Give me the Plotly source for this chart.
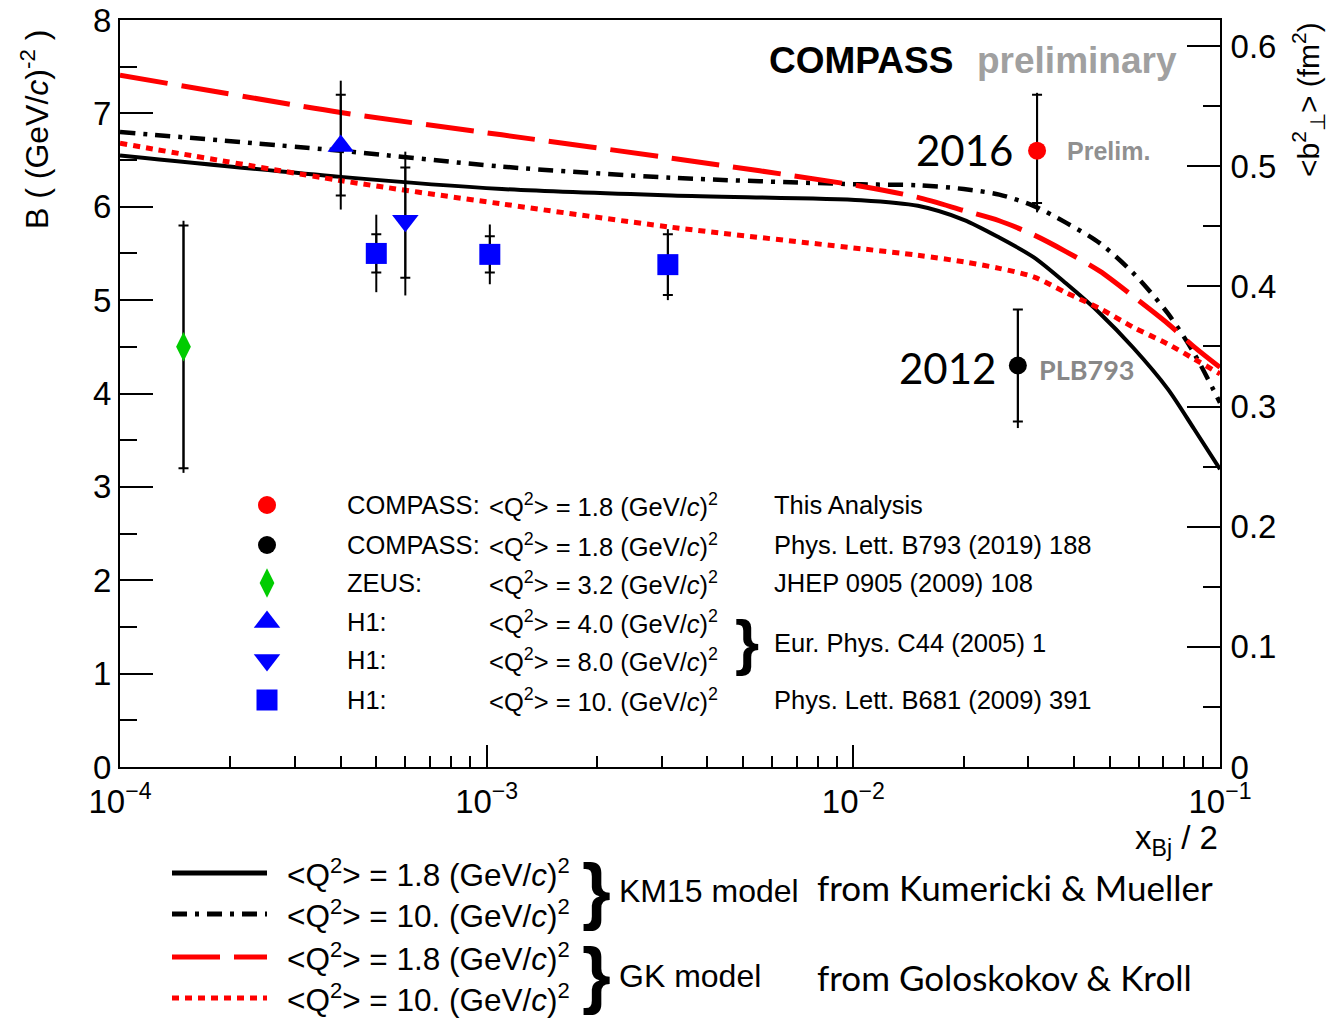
import plotly.graph_objects as go

# ---------------- model curves: B vs x_Bj/2 ----------------
x_model = [1e-4, 4e-4, 1.1e-3, 3.2e-3, 1.05e-2, 1.5e-2, 2.0e-2, 2.5e-2,
           3.1e-2, 3.8e-2, 4.7e-2, 5.8e-2, 7.2e-2, 8.5e-2, 0.1]
km15_q2_1p8 = [6.55, 6.32, 6.19, 6.12, 6.07, 6.01, 5.86, 5.67,
               5.46, 5.18, 4.86, 4.49, 4.05, 3.62, 3.19]
km15_q2_10 = [6.80, 6.60, 6.43, 6.31, 6.24, 6.23, 6.19, 6.13,
              6.01, 5.83, 5.61, 5.29, 4.86, 4.43, 3.90]
gk_q2_1p8 = [7.41, 7.01, 6.77, 6.52, 6.22, 6.10, 5.96, 5.85,
             5.70, 5.52, 5.31, 5.04, 4.75, 4.50, 4.28]
gk_q2_10 = [6.68, 6.28, 6.03, 5.78, 5.55, 5.48, 5.41, 5.34,
            5.25, 5.08, 4.91, 4.71, 4.53, 4.37, 4.21]

# ---------------- measurements ----------------
compass16_x = [0.0317]
compass16_b = [6.60]
compass16_stat_up, compass16_stat_dn = [0.60], [0.56]
compass16_tot_up, compass16_tot_dn = [0.62], [0.66]

compass12_x = [0.0281]
compass12_b = [4.30]
compass12_stat_up, compass12_stat_dn = [0.60], [0.60]
compass12_tot_up, compass12_tot_dn = [0.60], [0.67]

zeus_x = [1.49e-4]
zeus_b = [4.50]
zeus_stat = [1.30]
zeus_tot = [1.35]

h1_q4_x = [4.0e-4]
h1_q4_b = [6.65]
h1_q4_stat_up, h1_q4_stat_dn = [0.55], [0.53]
h1_q4_tot_up, h1_q4_tot_dn = [0.70], [0.68]

h1_q8_x = [6.0e-4]
h1_q8_b = [5.85]
h1_q8_stat_up, h1_q8_stat_dn = [0.57], [0.61]
h1_q8_tot_up, h1_q8_tot_dn = [0.74], [0.80]

h1_q10_x = [5.0e-4, 1.02e-3, 3.12e-3]
h1_q10_b = [5.50, 5.49, 5.38]
h1_q10_stat = [0.205, 0.195, 0.325]
h1_q10_tot = [0.415, 0.32, 0.38]

# axis ticks
x_major = [1e-4, 1e-3, 1e-2, 1e-1]
x_major_text = ["10<sup>\u22124</sup>", "10<sup>\u22123</sup>",
                "10<sup>\u22122</sup>", "10<sup>\u22121</sup>"]
x_minor = [m * d for d in (1e-4, 1e-3, 1e-2) for m in range(2, 10)]

# conversion B -> <b_perp^2>: right axis spans the same frame height
B_MAX = 8.0
B_TO_FM2 = 0.6217 / 8.0

ARIAL = "Liberation Sans, Arial, sans-serif"
CALIBRI = "Lato, Carlito, sans-serif"

# frame in pixels
L, R, T, BOT = 120, 1220, 20, 767
W, H = 1332, 1023


def xp(p):
    return (p - L) / (R - L)


def yp(p):
    return (BOT - p) / (BOT - T)


fig = go.Figure()

# model curves
curve_specs = [
    (km15_q2_1p8, "black", 4, "solid"),
    (km15_q2_10, "black", 4.5, "15px,8px,4px,8px"),
    (gk_q2_1p8, "#ff0000", 5, "48px,14px"),
    (gk_q2_10, "#ff0000", 5, "7px,6px"),
]
for yvals, col, wid, dash in curve_specs:
    fig.add_trace(go.Scatter(
        x=x_model, y=yvals, mode="lines",
        line=dict(color=col, width=wid, dash=dash, shape="spline", smoothing=0.8),
        hoverinfo="skip", showlegend=False))


def add_points(x, y, tot_up, tot_dn, st_up, st_dn, symbol, color, size):
    # full (total) error bar
    fig.add_trace(go.Scatter(
        x=x, y=y, mode="markers",
        marker=dict(size=1, color="rgba(0,0,0,0)"),
        error_y=dict(type="data", symmetric=False, array=tot_up, arrayminus=tot_dn,
                     color="black", thickness=2, width=0),
        hoverinfo="skip", showlegend=False))
    # statistical error bar with ticks, plus the marker
    fig.add_trace(go.Scatter(
        x=x, y=y, mode="markers",
        marker=dict(size=size, color=color, symbol=symbol, opacity=1, line=dict(width=0)),
        error_y=dict(type="data", symmetric=False, array=st_up, arrayminus=st_dn,
                     color="black", thickness=2, width=5),
        hoverinfo="skip", showlegend=False))


SIZE_DIAMOND, SIZE_TRI, SIZE_SQ, SIZE_CIRC = 21, 23, 21, 18

add_points(zeus_x, zeus_b, zeus_tot, zeus_tot, zeus_stat, zeus_stat,
           "diamond-tall", "#00cc00", SIZE_DIAMOND)
add_points(h1_q4_x, h1_q4_b, h1_q4_tot_up, h1_q4_tot_dn, h1_q4_stat_up, h1_q4_stat_dn,
           "triangle-up", "#0000ff", SIZE_TRI)
add_points(h1_q8_x, h1_q8_b, h1_q8_tot_up, h1_q8_tot_dn, h1_q8_stat_up, h1_q8_stat_dn,
           "triangle-down", "#0000ff", SIZE_TRI)
add_points(h1_q10_x, h1_q10_b, h1_q10_tot, h1_q10_tot, h1_q10_stat, h1_q10_stat,
           "square", "#0000ff", SIZE_SQ)
add_points(compass12_x, compass12_b, compass12_tot_up, compass12_tot_dn,
           compass12_stat_up, compass12_stat_dn, "circle", "black", SIZE_CIRC)
add_points(compass16_x, compass16_b, compass16_tot_up, compass16_tot_dn,
           compass16_stat_up, compass16_stat_dn, "circle", "#ff0000", SIZE_CIRC)

# legend symbols (drawn on a pixel-space overlay)
leg_rows = [505, 545, 583, 622, 660, 700]
leg_symbols = ["circle", "circle", "diamond-tall", "triangle-up", "triangle-down", "square"]
leg_colors = ["#ff0000", "black", "#00cc00", "#0000ff", "#0000ff", "#0000ff"]
leg_sizes = [SIZE_CIRC, SIZE_CIRC, SIZE_DIAMOND, SIZE_TRI, SIZE_TRI, SIZE_SQ]
fig.add_trace(go.Scatter(
    x=[267] * len(leg_rows), y=leg_rows, mode="markers",
    marker=dict(symbol=leg_symbols, color=leg_colors, size=leg_sizes,
                opacity=1, line=dict(width=0)),
    xaxis="x3", yaxis="y3", hoverinfo="skip", showlegend=False))

# right axis carrier (invisible)
fig.add_trace(go.Scatter(x=[1e-3], y=[0.3], mode="markers", marker=dict(opacity=0),
                         yaxis="y2", hoverinfo="skip", showlegend=False))

ann = []


def text(x, y, s, size, font=ARIAL, color="black", xa="left", ya="middle", angle=0):
    ann.append(dict(x=xp(x), y=yp(y), xref="paper", yref="paper", text=s,
                    showarrow=False, xanchor=xa, yanchor=ya, textangle=angle,
                    font=dict(size=size, family=font, color=color)))


# headline
text(955, 60, "<b>COMPASS</b>", 37, xa="right")
text(975, 60, "<b>preliminary</b>", 37, color="#a0a0a0")

# point labels
text(1015, 150, "2016", 42, font=CALIBRI, xa="right")
text(1065, 151, "<b>Prelim.</b>", 25, color="#909090")
text(998, 368, "2012", 42, font=CALIBRI, xa="right")
text(1037, 369, "<b>PLB793</b>", 27, font=CALIBRI, color="#888888")

# in-frame legend text
q2 = "&lt;Q<sup>2</sup>&gt; = {} (GeV/<i>c</i>)<sup>2</sup>"
leg_exp = ["COMPASS:", "COMPASS:", "ZEUS:", "H1:", "H1:", "H1:"]
leg_q2 = ["1.8", "1.8", "3.2", "4.0", "8.0", "10."]
for row, e, q in zip(leg_rows, leg_exp, leg_q2):
    text(345, row, e, 25.5)
    text(487, row, q2.format(q), 25.5)
text(772, 505, "This Analysis", 25.5)
text(772, 545, "Phys. Lett. B793 (2019) 188", 25.5)
text(772, 583, "JHEP 0905 (2009) 108", 25.5)
text(772, 643, "Eur. Phys. C44 (2005) 1", 25.5)
text(772, 700, "Phys. Lett. B681 (2009) 391", 25.5)
text(747, 641, "<b>}</b>", 62, xa="center")

# axis titles
text(35, 130, "B ( (GeV/<i>c</i>)<sup>-2</sup> )", 32, xa="center", angle=-90)
text(1308, 100, "&lt;b<sup>2</sup><sub>\u22a5</sub>&gt; (fm<sup>2</sup>)", 30,
     xa="center", angle=-90)
text(1220, 840, "x<sub>Bj</sub> / 2", 33, xa="right")

# model legend below the frame
bot_rows = [873, 914, 957, 998]
bot_q2 = ["1.8", "10.", "1.8", "10."]
bot_styles = [("black", "solid"), ("black", "15px,8px,4px,8px"),
              ("#ff0000", "48px,14px"), ("#ff0000", "7px,6px")]
shapes = []
for row, q, (col, dash) in zip(bot_rows, bot_q2, bot_styles):
    shapes.append(dict(type="line", xref="paper", yref="paper",
                       x0=xp(172), x1=xp(267), y0=yp(row), y1=yp(row),
                       line=dict(color=col, width=5, dash=dash)))
    text(285, row, q2.format(q), 31.5)
text(596, 890, "<b>}</b>", 74, xa="center")
text(596, 975, "<b>}</b>", 74, xa="center")
text(617, 891, "KM15 model", 32)
text(617, 976, "GK model", 32)
text(815, 887, "from Kumericki &amp; Mueller", 35, font=CALIBRI)
text(815, 977, "from Goloskokov &amp; Kroll", 35, font=CALIBRI)

fig.update_layout(
    width=W, height=H,
    margin=dict(l=L, r=W - R, t=T, b=H - BOT, pad=0, autoexpand=False),
    paper_bgcolor="white", plot_bgcolor="white",
    showlegend=False,
    annotations=ann,
    shapes=shapes,
    xaxis=dict(
        type="log", range=[-4, -1], automargin=False,
        tickmode="array", tickvals=x_major, ticktext=x_major_text,
        ticks="inside", ticklen=22, tickwidth=2, tickcolor="black",
        minor=dict(tickmode="array", tickvals=x_minor, ticks="inside",
                   ticklen=11, tickwidth=2, tickcolor="black", showgrid=False),
        showline=True, linecolor="black", linewidth=2, mirror=True,
        showgrid=False, zeroline=False,
        tickfont=dict(size=33, family=ARIAL, color="black"),
        ticklabelstandoff=4,
    ),
    yaxis=dict(
        range=[0, B_MAX], dtick=1, automargin=False,
        ticks="inside", ticklen=33, tickwidth=2, tickcolor="black",
        minor=dict(dtick=0.5, ticks="inside", ticklen=17, tickwidth=2,
                   tickcolor="black", showgrid=False),
        showline=True, linecolor="black", linewidth=2,
        showgrid=False, zeroline=False,
        tickfont=dict(size=33, family=ARIAL, color="black"),
        ticklabelstandoff=0,
    ),
    yaxis2=dict(
        overlaying="y", side="right", anchor="x", automargin=False,
        range=[0, B_MAX * B_TO_FM2], dtick=0.1,
        ticks="inside", ticklen=33, tickwidth=2, tickcolor="black",
        minor=dict(dtick=0.05, ticks="inside", ticklen=17, tickwidth=2,
                   tickcolor="black", showgrid=False),
        showline=True, linecolor="black", linewidth=2,
        showgrid=False, zeroline=False,
        tickfont=dict(size=33, family=ARIAL, color="black"),
        ticklabelstandoff=2,
    ),
    xaxis3=dict(overlaying="x", range=[L, R], visible=False, fixedrange=True,
                automargin=False),
    yaxis3=dict(overlaying="y", anchor="x3", range=[BOT, T], visible=False,
                fixedrange=True, automargin=False),
)

fig.write_html("out.html")
